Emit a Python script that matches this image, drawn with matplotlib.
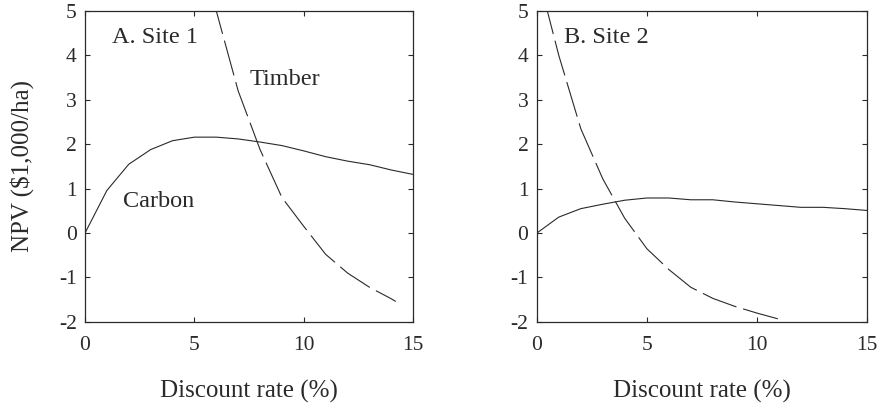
import matplotlib
matplotlib.use("Agg")
import matplotlib.pyplot as plt

plt.rcParams['font.family'] = ['Liberation Serif', 'DejaVu Serif']
plt.rcParams['axes.unicode_minus'] = False
plt.rcParams['lines.scale_dashes'] = False

# discount rate (%)
rate = [0, 1, 2, 3, 4, 5, 6, 7, 8, 9, 10, 11, 12, 13, 14, 15]

# Site 1 NPV ($1,000/ha)
carbon1 = [0, 0.96, 1.55, 1.88, 2.08, 2.16, 2.16, 2.12, 2.05, 1.97, 1.85,
           1.72, 1.62, 1.54, 1.42, 1.32]
timber1_x = [5, 6, 7, 8, 9, 10, 11, 12, 13, 14, 14.2]
timber1 = [7.0, 5.0, 3.2, 1.88, 0.8, 0.15, -0.48, -0.9, -1.22, -1.48, -1.54]

# Site 2 NPV ($1,000/ha)
carbon2 = [0, 0.36, 0.55, 0.65, 0.74, 0.79, 0.79, 0.75, 0.75, 0.70, 0.66,
           0.62, 0.58, 0.58, 0.55, 0.51]
timber2_x = [0, 1, 2, 3, 4, 5, 6, 7, 8, 9, 10, 11.1]
timber2 = [5.92, 4.0, 2.35, 1.22, 0.33, -0.35, -0.82, -1.22, -1.47, -1.65, -1.8, -1.95]

col = '#2a2a2a'
fig = plt.figure(figsize=(8.8, 4.08), dpi=100)
ax1 = fig.add_axes([0.0966, 0.211, 0.373, 0.762])
ax2 = fig.add_axes([0.610, 0.211, 0.375, 0.762])

panels = [(ax1, carbon1, timber1_x, timber1, 'A. Site 1'),
          (ax2, carbon2, timber2_x, timber2, 'B. Site 2')]

for ax, carb, tx, tim, title in panels:
    ax.plot(rate, carb, color=col, linewidth=0.8)
    ax.plot(tx, tim, color=col, linewidth=0.8, linestyle=(0, (26, 5)))
    ax.set_xlim(0, 15)
    ax.set_ylim(-2, 5)
    ax.set_xticks([0, 5, 10, 15])
    ax.set_yticks(range(-2, 6))
    ax.tick_params(direction='in', length=3.5, width=0.8, top=True, right=True,
                   labelsize=15.5, colors=col)
    ax.tick_params(axis='x', pad=10)
    ax.tick_params(axis='y', pad=6)
    for s in ax.spines.values():
        s.set_linewidth(0.9)
        s.set_color(col)
    ax.set_xlabel('Discount rate (%)', fontsize=18, color=col, labelpad=18)
    ax.text(1.25, 4.4, title, fontsize=17.5, color=col, va='center', ha='left')

ax1.set_ylabel('NPV ($1,000/ha)', fontsize=18, color=col, labelpad=18)
ax1.text(7.5, 3.46, 'Timber', fontsize=17.5, color=col, va='center', ha='left')
ax1.text(1.74, 0.70, 'Carbon', fontsize=17.5, color=col, va='center', ha='left')

fig.savefig('out.png', dpi=100)
